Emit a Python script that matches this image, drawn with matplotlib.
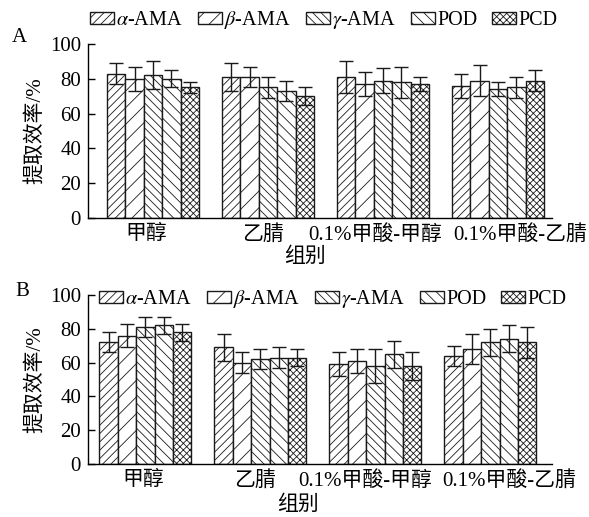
import matplotlib
matplotlib.use("Agg")
import matplotlib.pyplot as plt
import numpy as np

plt.rcParams['font.family'] = ['Liberation Serif', 'Noto Sans CJK SC', 'DejaVu Sans']
plt.rcParams['mathtext.fontset'] = 'stix'
plt.rcParams['hatch.linewidth'] = 0.6

groups = ['甲醇', '乙腈', '0.1%甲酸-甲醇', '0.1%甲酸-乙腈']
series = [r'$\alpha$-AMA', r'$\beta$-AMA', r'$\gamma$-AMA', 'POD', 'PCD']
hatches = ['////', '//', '\\\\\\\\', '\\\\\\', 'xxxxx']

# Panel A values (rows: series; columns: groups)
a_alpha = [83, 81, 81, 76]
a_beta = [80, 81, 77, 79]
a_gamma = [82, 75, 79, 74]
a_pod = [80, 73, 78, 75]
a_pcd = [75, 70, 77, 79]
a_alpha_err = [6, 8, 9, 7]
a_beta_err = [7, 6, 7, 9]
a_gamma_err = [8, 6, 7, 4]
a_pod_err = [5, 6, 9, 6]
a_pcd_err = [3, 5, 4, 6]

# Panel B values
b_alpha = [72, 69, 59, 64]
b_beta = [76, 60, 61, 68]
b_gamma = [81, 62, 58, 72]
b_pod = [82, 63, 65, 74]
b_pcd = [78, 63, 58, 72]
b_alpha_err = [6, 8, 7, 6]
b_beta_err = [7, 6, 7, 9]
b_gamma_err = [6, 6, 10, 8]
b_pod_err = [5, 6, 8, 8]
b_pcd_err = [5, 5, 8, 9]

yticks = [0, 20, 40, 60, 80, 100]
ylabel = '提取效率/%'
xlabel = '组别'

fig = plt.figure(figsize=(5.89, 5.17), dpi=100)
W, H = 589, 517

def make_axes(l, r, t, b):
    return fig.add_axes([l / W, 1 - b / H, (r - l) / W, (b - t) / H])

axA = make_axes(88, 552, 44, 218)
axB = make_axes(88, 552, 295, 464)

bw = 0.16

def draw(ax, vals, errs, xlim, tickpos):
    x = np.arange(len(groups))
    handles = []
    for i, (v, e) in enumerate(zip(vals, errs)):
        h = ax.bar(x + (i - 2) * bw, v, bw, yerr=e, facecolor='white', edgecolor='#1a1a1a',
                   linewidth=1.0, hatch=hatches[i], label=series[i],
                   error_kw=dict(capsize=5, elinewidth=1.0, capthick=1.0, ecolor='#1a1a1a'))
        handles.append(h)
    ax.set_xlim(*xlim)
    ax.set_ylim(0, 100)
    ax.set_yticks(yticks)
    ax.set_xticks(tickpos)
    ax.set_xticklabels(groups, fontsize=15)
    ax.tick_params(axis='x', length=0, pad=5)
    ax.tick_params(axis='y', direction='in', length=5, width=1, pad=5, labelsize=15)
    for s in ['top', 'right']:
        ax.spines[s].set_visible(False)
    for s in ['left', 'bottom']:
        ax.spines[s].set_linewidth(1.0)
    return handles

hA = draw(axA, [a_alpha, a_beta, a_gamma, a_pod, a_pcd],
          [a_alpha_err, a_beta_err, a_gamma_err, a_pod_err, a_pcd_err],
          (-0.565, 3.47), [-0.06, 0.96, 1.93, 3.19])
hB = draw(axB, [b_alpha, b_beta, b_gamma, b_pod, b_pcd],
          [b_alpha_err, b_beta_err, b_gamma_err, b_pod_err, b_pcd_err],
          (-0.5, 3.535), [-0.02, 0.95, 1.91, 3.16])

for ax, handles, lx, ly in [(axA, hA, 90, 20), (axB, hB, 99, 299)]:
    fig.legend(handles=[h.patches[0] for h in handles], labels=series, ncol=5,
               loc='center left', bbox_to_anchor=(lx / W, 1 - ly / H),
               frameon=False, fontsize=14.5, handlelength=1.2, handleheight=0.55,
               handletextpad=0.1, columnspacing=0.75, borderpad=0, borderaxespad=0)

for ax, yc in [(axA, 131), (axB, 380)]:
    fig.text(35 / W, 1 - yc / H, ylabel, rotation=90, ha='center', va='center', fontsize=15)

fig.text(305 / W, 1 - 257 / H, xlabel, ha='center', va='center', fontsize=15)
fig.text(298 / W, 1 - 505 / H, xlabel, ha='center', va='center', fontsize=15)
fig.text(19 / W, 1 - 37 / H, 'A', ha='center', va='center', fontsize=15)
fig.text(22 / W, 1 - 292 / H, 'B', ha='center', va='center', fontsize=15)

fig.savefig('out.png', dpi=100)
